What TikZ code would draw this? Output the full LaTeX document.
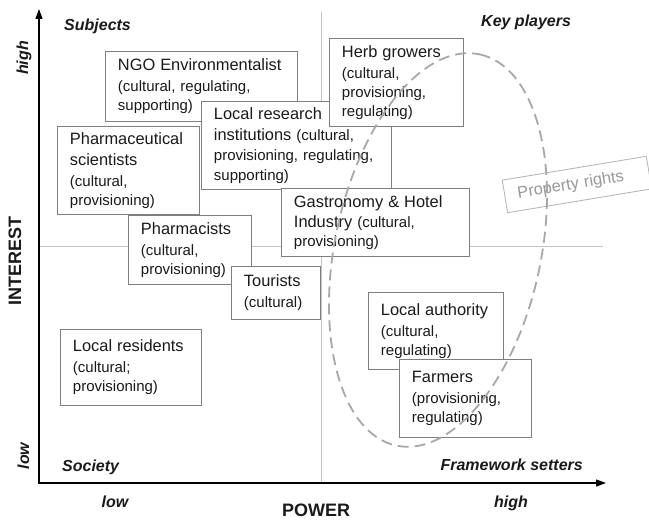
\documentclass[tikz,border=0pt]{standalone}
\usepackage{fontspec}
\setmainfont{Liberation Sans}
\usetikzlibrary{arrows.meta}
\definecolor{boxgray}{HTML}{7F7F7F}
\definecolor{divgray}{HTML}{C4C4C4}
\definecolor{ringgray}{HTML}{A8A8A8}
\definecolor{txt}{HTML}{1A1A1A}
\newcommand{\tsz}{\fontsize{16.4}{19}\selectfont}
\newcommand{\ssz}{\fontsize{15}{19}\selectfont}
\newcommand{\qsz}{\fontsize{16}{19}\selectfont\bfseries\itshape}
\begin{document}
\begin{tikzpicture}[x=1pt,y=-1pt,
  stake/.style={draw=boxgray, fill=white, line width=0.9pt, inner xsep=12.5pt, inner ysep=0pt,
    align=left, anchor=north west, font=\ssz, text=txt},
  quad/.style={font=\qsz, text=txt, inner sep=0pt},
  levlab/.style={font=\qsz, text=txt, inner sep=0pt},
  axlab/.style={font=\fontsize{18}{20}\selectfont\bfseries, text=txt, inner sep=0pt},
  divider/.style={draw=divgray, line width=1pt},
  axisline/.style={draw=black, line width=1.2pt},
  dashring/.style={draw=ringgray, line width=1.8pt, dash pattern=on 11pt off 6pt},
  propbox/.style={draw=gray!55, fill=none, line width=0.9pt, text=gray!80, font=\tsz,
    inner xsep=13pt, inner ysep=0pt, minimum height=33pt, text width=120pt, align=left}
]
\useasboundingbox (0,0) rectangle (649,526);
\fill[white] (0,0) rectangle (649,526);

% dividers
\coordinate (vtop) at (321,12);
\coordinate (vbot) at (321,483);
\coordinate (hl) at (39,247);
\coordinate (hr) at (603,247);
\draw[divider] (vtop) -- (vbot);
\draw[divider] (hl) -- (hr);

% axes
\coordinate (ytop) at (39,9);
\coordinate (O) at (39,483);
\coordinate (xend) at (606,483);
\draw[axisline, {Triangle[length=10pt,width=7pt]}-{Triangle[length=10pt,width=7pt]}] (ytop) -- (O) -- (xend);

% stakeholder boxes
\node[stake, text width=167pt, minimum height=70pt] (ngo) at (105,51)
  {{\tsz NGO Environmentalist}\\[2pt](cultural, regulating,\\supporting)};
\node[stake, text width=165pt, minimum height=88pt] (research) at (201,101)
  {{\tsz Local research}\\[2pt]{\tsz institutions} (cultural,\\[1pt]provisioning, regulating,\\[1pt]supporting)};
\node[stake, text width=109pt, minimum height=88pt] (herb) at (329,38)
  {{\tsz Herb growers}\\[2pt](cultural,\\provisioning,\\regulating)};
\node[stake, text width=117pt, minimum height=88pt] (pharmsci) at (57,126)
  {{\tsz Pharmaceutical}\\[2pt]{\tsz scientists}\\[2pt](cultural,\\provisioning)};
\node[stake, text width=163pt, minimum height=68pt] (gastro) at (281,188)
  {{\tsz Gastronomy \& Hotel}\\[1pt]{\tsz Industry} (cultural,\\provisioning)};
\node[stake, text width=98pt, minimum height=69pt] (pharm) at (128,215)
  {{\tsz Pharmacists}\\[2pt](cultural,\\provisioning)};
\node[stake, text width=64pt, minimum height=53pt] (tour) at (231,266)
  {{\tsz Tourists}\\[2pt](cultural)};
\node[stake, text width=116pt, minimum height=76pt] (resid) at (60,329)
  {{\tsz Local residents}\\[2pt](cultural;\\provisioning)};
\node[stake, text width=110pt, minimum height=77pt] (auth) at (368,292)
  {{\tsz Local authority}\\[2pt](cultural,\\regulating)};
\node[stake, text width=107pt, minimum height=78pt] (farm) at (399,359)
  {{\tsz Farmers}\\[2pt](provisioning,\\regulating)};

% property rights
\node[propbox, rotate=9.4, anchor=west] (prop) at (504.5,196.5) {Property rights};

% dashed ring
\draw[dashring, rotate around={78:(438,250)}] (438,250) ellipse [x radius=200, y radius=103];

% quadrant labels
\node[quad, anchor=base west] (subj) at (64,31) {Subjects};
\node[quad, anchor=base west] (keyp) at (481,27) {Key players};
\node[quad, anchor=base west] (soc) at (62,472) {Society};
\node[quad, anchor=base east] (frame) at (583,471) {Framework setters};

% axis labels
\node[axlab, rotate=90, anchor=base] (interest) at (21,261) {INTEREST};
\node[axlab, anchor=base] (power) at (316,517) {POWER};
\node[levlab, rotate=90, anchor=base] (yhigh) at (28,58) {high};
\node[levlab, rotate=90, anchor=base] (ylow) at (29,456) {low};
\node[levlab, anchor=base] (xlow) at (115,508) {low};
\node[levlab, anchor=base] (xhigh) at (511,508) {high};
\end{tikzpicture}
\end{document}
